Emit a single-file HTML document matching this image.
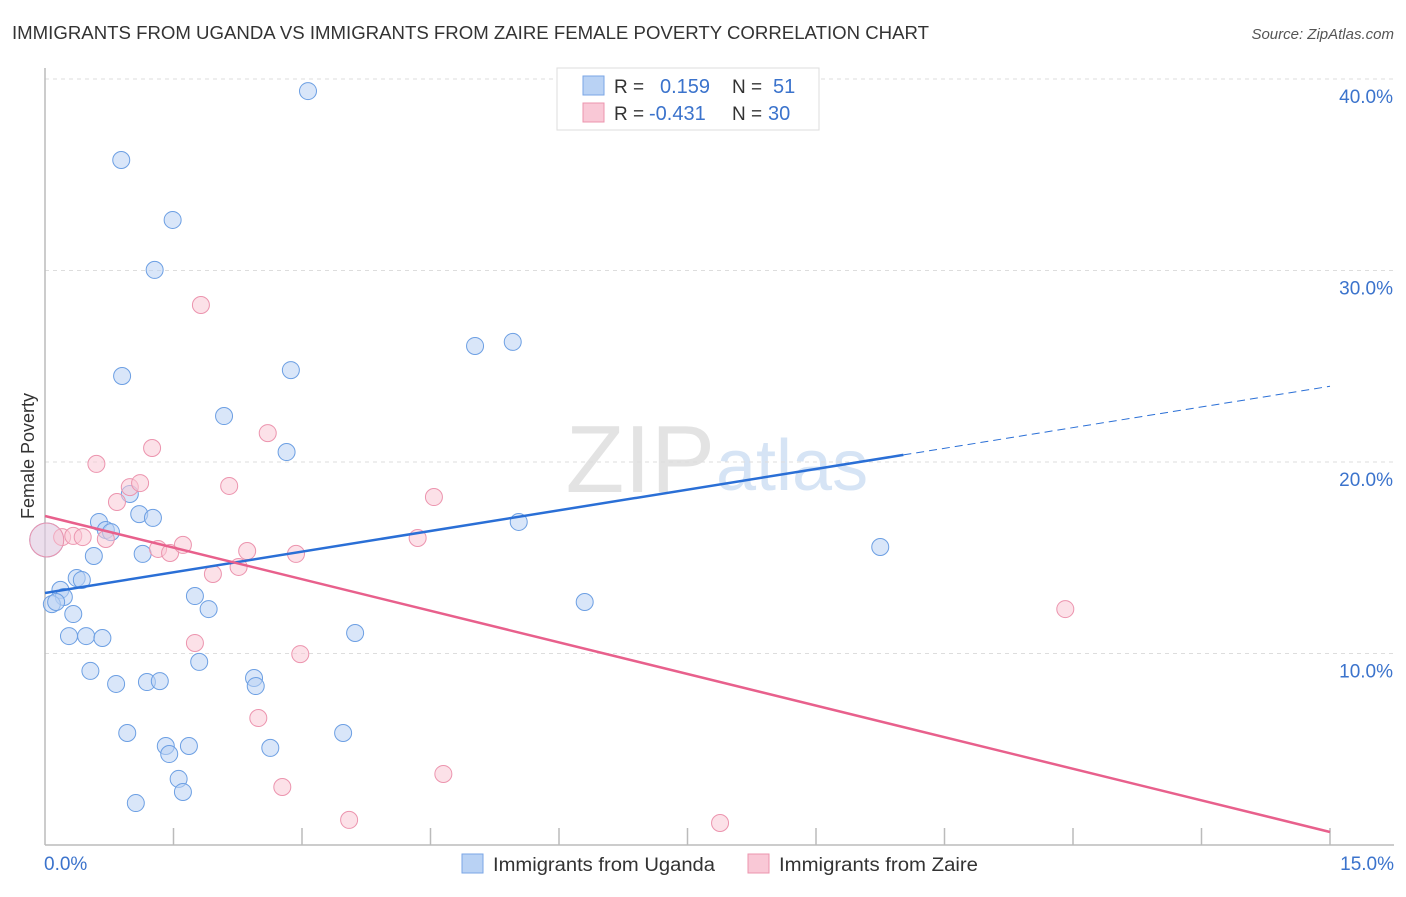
<!DOCTYPE html>
<html><head><meta charset="utf-8"><style>
body{margin:0;background:#fff;font-family:"Liberation Sans",sans-serif;}
svg text{font-family:"Liberation Sans",sans-serif;}
</style></head><body>
<svg id="chart" width="1406" height="892" xmlns="http://www.w3.org/2000/svg">
<text x="12" y="39" font-size="18" fill="#333" textLength="917" lengthAdjust="spacingAndGlyphs">IMMIGRANTS FROM UGANDA VS IMMIGRANTS FROM ZAIRE FEMALE POVERTY CORRELATION CHART</text>
<text x="1394" y="39" font-size="15" fill="#555" font-style="italic" text-anchor="end">Source: ZipAtlas.com</text>
<text x="715" y="492" font-size="96" fill="#e3e3e3" text-anchor="end" font-family="Liberation Serif">ZIP</text>
<text x="716" y="490" font-size="72" fill="#d6e4f5">atlas</text>
<g id="grid"></g>
<g id="axes"></g>
<g id="marks"></g>
<g>
<rect x="557" y="68" width="262" height="62" fill="#fff" stroke="#ddd"/>
<rect x="583" y="76" width="21" height="19" fill="#b9d2f4" stroke="#7aa6e6"/>
<rect x="583" y="103" width="21" height="19" fill="#f9c8d6" stroke="#ec94ae"/>
<text x="614" y="93" font-size="19" fill="#333">R =</text>
<text x="660" y="93" font-size="20" fill="#3b73cc">0.159</text>
<text x="732" y="93" font-size="19" fill="#333">N =</text>
<text x="773" y="93" font-size="20" fill="#3b73cc">51</text>
<text x="614" y="120" font-size="19" fill="#333">R =</text>
<text x="649" y="120" font-size="20" fill="#3b73cc">-0.431</text>
<text x="732" y="120" font-size="19" fill="#333">N =</text>
<text x="768" y="120" font-size="20" fill="#3b73cc">30</text>
</g>
<g>
<rect x="462" y="854" width="21" height="19" fill="#b9d2f4" stroke="#7aa6e6"/>
<text x="493" y="871" font-size="19" fill="#333" textLength="222" lengthAdjust="spacingAndGlyphs">Immigrants from Uganda</text>
<rect x="748" y="854" width="21" height="19" fill="#f9c8d6" stroke="#ec94ae"/>
<text x="779" y="871" font-size="19" fill="#333" textLength="199" lengthAdjust="spacingAndGlyphs">Immigrants from Zaire</text>
</g>
<text transform="translate(34,456) rotate(-90)" font-size="18" fill="#333" text-anchor="middle">Female Poverty</text>
</svg>
<script>
const yTicks=[10,20,30,40];
const yTickLabels=["10.0%","20.0%","30.0%","40.0%"];
const xEndLabels=["0.0%","15.0%"];
const ugandaX=[3.07,0.89,1.49,1.28,0.90,2.87,5.02,5.46,2.09,2.82,0.99,1.10,0.63,1.26,0.71,0.77,0.57,1.14,0.37,0.43,0.18,0.22,0.08,0.13,0.33,1.75,1.91,0.28,0.48,0.67,3.62,1.80,0.53,0.83,1.19,1.34,2.44,2.46,0.96,3.48,1.41,1.68,1.45,2.63,1.56,1.61,1.06,5.53,6.30,9.75,0.02];
const ugandaY=[39.37,35.77,32.64,30.03,24.49,24.80,26.06,26.27,22.40,20.52,18.33,17.28,16.87,17.08,16.45,16.34,15.09,15.20,13.94,13.84,13.32,12.95,12.58,12.69,12.06,13.00,12.32,10.91,10.91,10.81,11.07,9.56,9.09,8.41,8.51,8.56,8.72,8.30,5.85,5.85,5.17,5.17,4.75,5.07,3.45,2.77,2.19,16.87,12.69,15.56,15.93];
const zaireX=[1.82,1.25,2.60,0.60,0.99,1.11,0.84,2.15,4.54,0.20,0.33,0.44,0.71,1.32,1.46,1.61,2.36,2.26,2.93,1.96,4.35,1.75,2.98,2.49,2.77,4.65,3.55,7.88,11.91,0.02];
const zaireY=[28.20,20.73,21.51,19.90,18.69,18.90,17.91,18.75,18.17,16.08,16.14,16.08,15.98,15.46,15.25,15.67,15.35,14.52,15.20,14.15,16.03,10.55,9.97,6.63,3.03,3.71,1.31,1.15,12.32,15.93];
const trendUganda=[13.16,0.7196];
const trendZaire=[17.18,-1.100];
const X0=45,X1=1330,Y0=845,PPY=19.15;
const sx=v=>X0+v/15*(X1-X0);
const sy=v=>Y0-v*PPY;
const NS="http://www.w3.org/2000/svg";
function mk(tag,attrs,parent){const e=document.createElementNS(NS,tag);for(const k in attrs)e.setAttribute(k,attrs[k]);parent.appendChild(e);return e;}
const grid=document.getElementById('grid'),axes=document.getElementById('axes'),marks=document.getElementById('marks');
yTicks.forEach((t,i)=>{
 const l=mk('line',{x1:X0,x2:1394,y1:sy(t),y2:sy(t),stroke:'#ddd','stroke-dasharray':'4,4'},grid);
 
 
 const tx=mk('text',{x:1393,y:sy(t)+24,'font-size':19,fill:'#3b73cc','text-anchor':'end'},axes);
 tx.textContent=yTickLabels[i];
 
 
});
const ax=mk('line',{x1:X0,x2:X0,y1:68,y2:Y0,stroke:'#bbb','stroke-width':1.5},axes);


const bx=mk('line',{x1:X0,x2:1394,y1:Y0,y2:Y0,stroke:'#bbb','stroke-width':1.5},axes);


for(let i=1;i<=10;i++){
 const t=mk('line',{x1:sx(i*1.5),x2:sx(i*1.5),y1:Y0-17,y2:Y0,stroke:'#bbb','stroke-width':1.5},axes);
 
 
}
const xl0=mk('text',{x:44,y:870,'font-size':19,fill:'#3b73cc'},axes);xl0.textContent=xEndLabels[0];


const xl1=mk('text',{x:1394,y:870,'font-size':19,fill:'#3b73cc','text-anchor':'end'},axes);xl1.textContent=xEndLabels[1];


function dots(xs,ys,fill,stroke,name){
 xs.forEach((x,i)=>{
  const big=(i===xs.length-1);
  const c=mk('circle',{cx:sx(x),cy:sy(ys[i]),r:big?17:8.5,fill:fill,'fill-opacity':big?0.4:0.55,stroke:stroke,'stroke-width':1},marks);
  
  
 });
}
dots(ugandaX,ugandaY,'#b9d2f4','#6c9fe3','uganda-point');
dots(zaireX,zaireY,'#f9c8d6','#ec94ae','zaire-point');
const bxEnd=10.02;
const l1=mk('line',{x1:sx(0),y1:sy(trendUganda[0]),x2:sx(bxEnd),y2:sy(trendUganda[0]+trendUganda[1]*bxEnd),stroke:'#2a6fd6','stroke-width':2.5},marks);


const l2=mk('line',{x1:sx(bxEnd),y1:sy(trendUganda[0]+trendUganda[1]*bxEnd),x2:sx(15),y2:sy(trendUganda[0]+trendUganda[1]*15),stroke:'#2a6fd6','stroke-width':1,'stroke-dasharray':'8,5'},marks);


const l3=mk('line',{x1:sx(0),y1:sy(trendZaire[0]),x2:sx(15),y2:sy(trendZaire[0]+trendZaire[1]*15),stroke:'#e8608c','stroke-width':2.5},marks);


</script>
</body></html>
